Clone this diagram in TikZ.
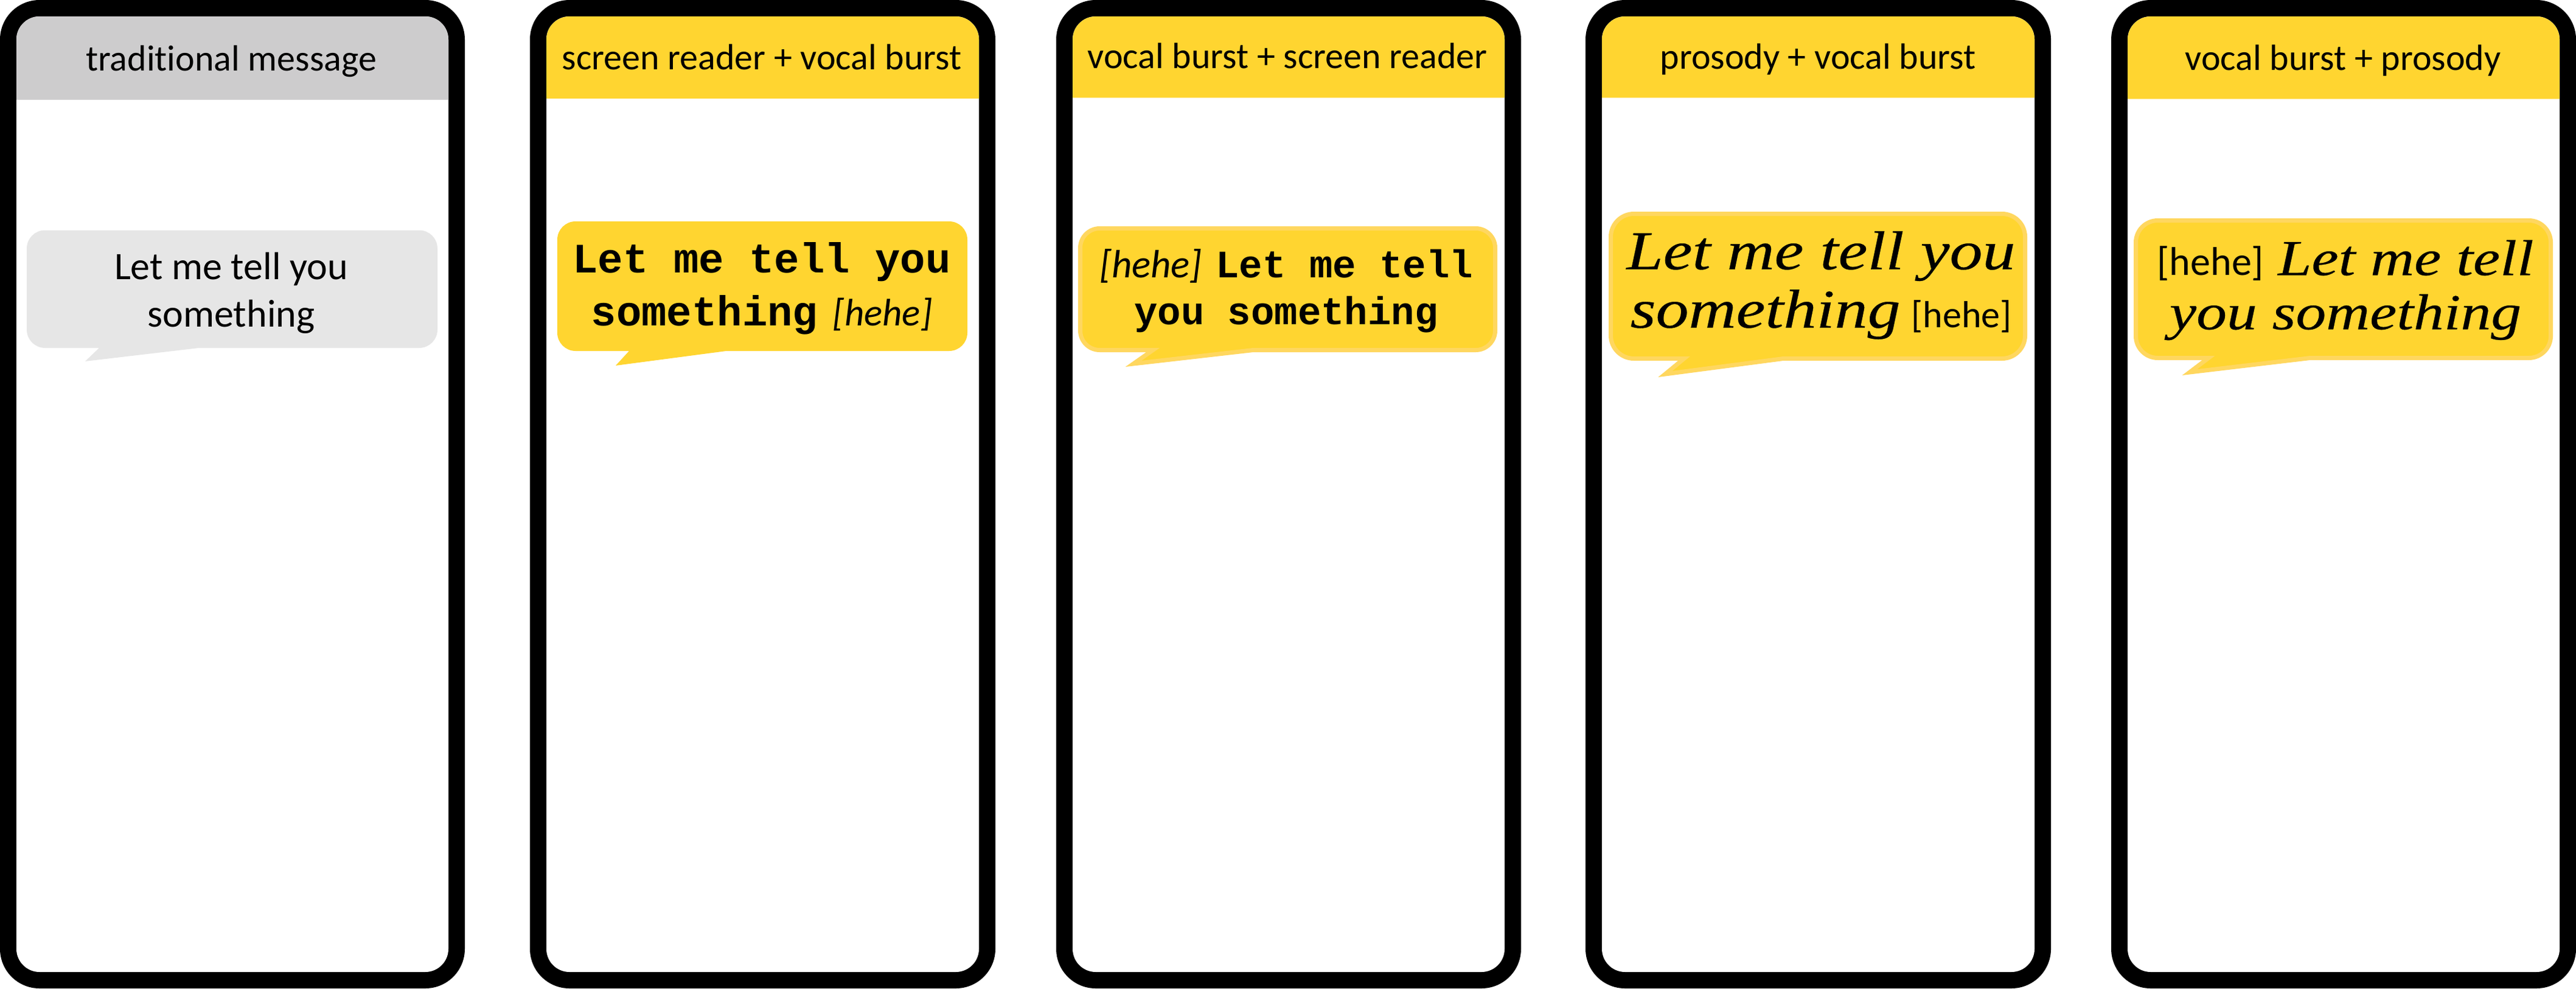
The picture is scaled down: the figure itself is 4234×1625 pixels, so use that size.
\documentclass[tikz,border=0pt]{standalone}
\usepackage{fontspec}
\setmainfont{Carlito}[Ligatures=CommonOff]
\newfontfamily\monof{Liberation Mono}[BoldFont={* Bold}]
\newfontfamily\handf{Liberation Serif}[UprightFont={* Italic},FakeStretch=1.2,FakeBold=0.3]
\definecolor{hdrgrey}{HTML}{CDCCCD}
\definecolor{bubgrey}{HTML}{E6E6E6}
\definecolor{amber}{HTML}{FFD530}
\definecolor{amberedge}{HTML}{FFD75F}
\newcommand{\sr}[2]{{\monof\bfseries\fontsize{#1}{#1}\selectfont #2}}
\newcommand{\pr}[2]{{\handf\fontsize{#1}{#1}\selectfont #2}}
\newcommand{\hehe}[2]{{\fontsize{#1}{#1}\selectfont #2}}
\newcommand{\phone}[4]{%
  \fill[black,rounded corners=65pt] (#1,0) rectangle (#2,1625);
  \fill[white,rounded corners=38pt] (#1+27,27) rectangle (#2-27,1598);
  \fill[#4] (#1+27,#3) -- (#1+27,65) arc[start angle=180,end angle=90,radius=38pt] -- (#2-65,27) arc[start angle=90,end angle=0,radius=38pt] -- (#2-27,#3) -- cycle;
}
\newcommand{\bubble}[9]{%
  \path[#9] (#7) -- (#6,#4) [rounded corners=#8] -- (#2,#4) -- (#2,#3) -- (#1,#3) -- (#1,#4) [sharp corners] -- (#5,#4) -- cycle;
}
\tikzset{
  x=1pt,y=-1pt,
  headtext/.style={anchor=base,inner sep=0pt,font=\fontsize{60}{60}\selectfont},
  msgtext/.style={anchor=center,inner sep=0pt,align=center},
  plainbub/.style={fill=#1},
  edgebub/.style={fill=amber,draw=amberedge,line width=7pt,line join=miter}
}
\begin{document}
\begin{tikzpicture}
\useasboundingbox (0,0) rectangle (4234,1625);
\phone{0}{764}{164}{hdrgrey}
\phone{871}{1636}{162}{amber}
\phone{1736}{2500}{160.5}{amber}
\phone{2606}{3371}{160.5}{amber}
\phone{3470}{4234}{162.5}{amber}

\bubble{44}{719}{378.5}{572}{163}{327}{140,594}{30pt}{plainbub=bubgrey}
\bubble{916}{1590}{364}{577}{1034}{1194}{1012,601}{30pt}{plainbub=amber}
\bubble{1775.5}{2457.5}{375.5}{575.5}{1895}{2060}{1863,598}{32pt}{edgebub}
\bubble{2647.5}{3328.5}{351.5}{589.5}{2768}{2931}{2737,615}{38pt}{edgebub}
\bubble{3510.5}{4192.5}{362.5}{588.5}{3630}{3797}{3599,612}{36pt}{edgebub}

\node[headtext] (h1) at (380,116) {traditional message};
\node[headtext] (h2) at (1252,114) {screen reader + vocal burst};
\node[headtext] (h3) at (2116,112) {vocal burst + screen reader};
\node[headtext] (h4) at (2988,113) {prosody + vocal burst};
\node[headtext] (h5) at (3851,115) {vocal burst + prosody};

\node[msgtext,font=\fontsize{64}{78}\selectfont] (m1) at (380,481.5) {Let me tell you\\something};
\node[msgtext,font=\fontsize{64}{87}\selectfont] (m2) at (1252,474) {\sr{69}{Let me tell you}\\\sr{69}{something}\hspace{10pt}\hehe{63}{ \itshape[hehe]}};
\node[msgtext,font=\fontsize{64}{77}\selectfont] (m3) at (2114,478) {\hehe{65}{\itshape[hehe] }\hspace{8pt}\sr{64}{Let me tell}\\\sr{64}{you something}};
\node[msgtext,font=\fontsize{64}{96}\selectfont] (m4) at (2993,469) {\pr{90}{Let me tell you}\\\pr{90}{something}\hspace{4pt}\hehe{62}{ [hehe]}};
\node[msgtext,font=\fontsize{64}{89}\selectfont] (m5) at (3855,477) {\hehe{66}{[hehe] }\hspace{8pt}\pr{83}{Let me tell}\\\pr{83}{you something}};
\end{tikzpicture}
\end{document}
